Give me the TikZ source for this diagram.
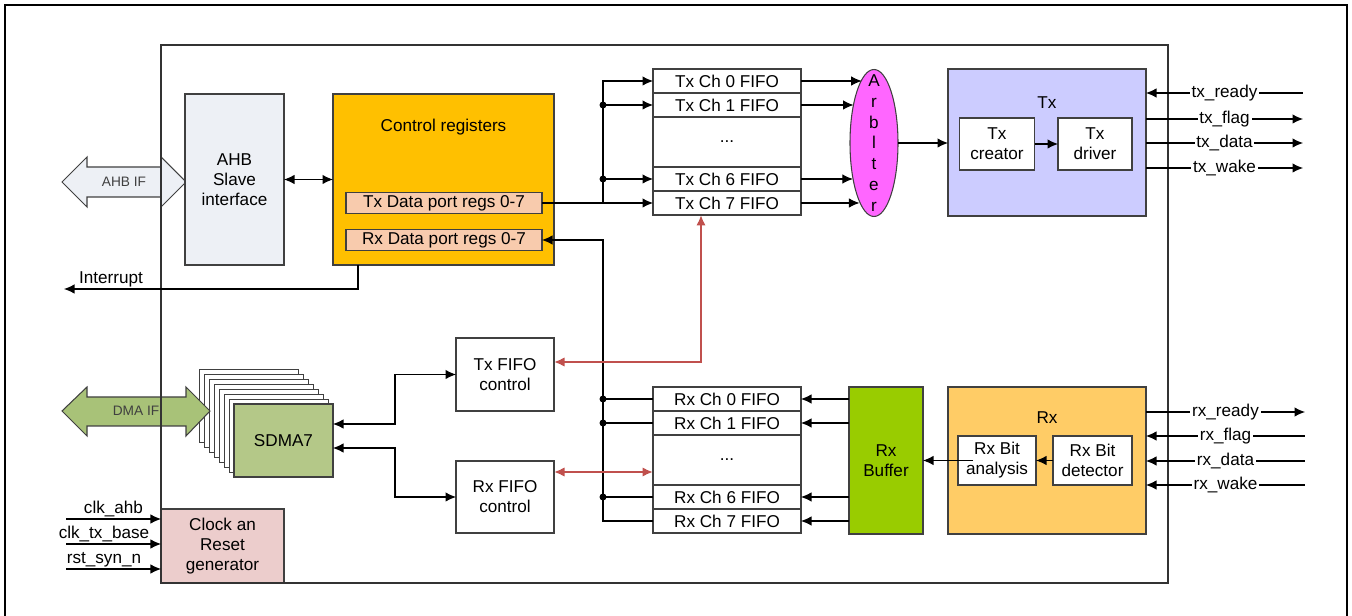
\documentclass[tikz,border=0pt]{standalone}
\usepackage{fontspec}
\setmainfont{Liberation Sans}
\usetikzlibrary{arrows.meta,shapes.geometric}

\definecolor{ahbgris}{RGB}{237,240,245}
\definecolor{ctrlnar}{RGB}{255,192,0}
\definecolor{puerto}{RGB}{248,203,173}
\definecolor{arbmag}{RGB}{255,102,255}
\definecolor{txlila}{RGB}{204,204,255}
\definecolor{rxnar}{RGB}{255,204,102}
\definecolor{bufverde}{RGB}{153,204,0}
\definecolor{dmaverde}{RGB}{180,200,136}
\definecolor{dmaflecha}{RGB}{168,194,120}
\definecolor{clkrosa}{RGB}{236,205,204}
\definecolor{rojo}{RGB}{192,80,77}
\definecolor{borde}{RGB}{64,64,64}

\begin{document}
\begin{tikzpicture}[x=0.2mm,y=-0.2mm,line width=0.6pt,>={Latex[length=2.1mm,width=1.9mm]},
  font=\fontsize{9.75}{11.4}\selectfont,
  caja/.style={draw=borde,line width=0.6pt,align=center,inner sep=1pt,outer sep=0pt},
  fifo/.style={caja,fill=white,minimum width=29.6mm,minimum height=4.8mm},
  chica/.style={font=\fontsize{7.8}{9}\selectfont,text=black!75},
  sig/.style={fill=white,inner sep=1pt},
  rojoflecha/.style={<->,draw=rojo,line width=1.3pt}]
  \useasboundingbox (0,0) rectangle (1352,616);
  % marco exterior (abierto abajo)
  \draw[line width=1.2pt] (5,616) -- (5,5) -- (1347,5) -- (1347,616);
  % AHB IF
  \fill[ahbgris,draw=borde] (62,182) -- (87,157) -- (87,167) -- (161,167) -- (161,157) -- (186,182)
    -- (161,207) -- (161,197) -- (87,197) -- (87,207) -- cycle;
  \node[chica] (ahbif) at (124,182) {AHB IF};
  % bloques de control
  \node[caja,fill=ahbgris,minimum width=19.8mm,minimum height=34.2mm] (ahb) at (234.5,179.5) {AHB\\Slave\\interface};
  \node[caja,fill=ctrlnar,minimum width=44.2mm,minimum height=34.2mm] (ctrl) at (443.5,179.5) {};
  \node (ctrltit) at (443.5,127) {Control registers};
  \node[caja,fill=puerto,minimum width=39.2mm,minimum height=4.3mm] (txport) at (444,203) {Tx Data port regs 0-7};
  \node[caja,fill=puerto,minimum width=39.2mm,minimum height=4.3mm] (rxport) at (444,240) {Rx Data port regs 0-7};
  % fifos de Tx
  \node[fifo] (tx0) at (727,81) {Tx Ch 0 FIFO};
  \node[fifo] (tx1) at (727,105) {Tx Ch 1 FIFO};
  \node[fifo,minimum height=10mm] (txd) at (727,142) {...};
  \node[fifo] (tx6) at (727,179) {Tx Ch 6 FIFO};
  \node[fifo] (tx7) at (727,203) {Tx Ch 7 FIFO};
  % arbitro
  \node[ellipse,draw=borde,fill=arbmag,minimum width=9.6mm,minimum height=29.4mm,inner sep=0pt,outer sep=0pt] (arb) at (874,143) {};
  \node[align=center,inner sep=0pt,font=\fontsize{9.75}{11.8}\selectfont] (arbtxt) at (arb) {A\\r\\b\\l\\t\\e\\r};
  % transmisor
  \node[caja,fill=txlila,minimum width=39.6mm,minimum height=29.4mm] (tx) at (1047,142.5) {};
  \node (txtit) at (1047,103) {Tx};
  \node[caja,fill=white,minimum width=15mm,minimum height=10.4mm] (txcr) at (997,144) {Tx\\creator};
  \node[caja,fill=white,minimum width=14.8mm,minimum height=10.4mm] (txdr) at (1095,144) {Tx\\driver};
  % control de fifos
  \node[caja,fill=white,minimum width=19.6mm,minimum height=14.6mm] (txfc) at (505,374.5) {Tx FIFO\\control};
  \node[caja,fill=white,minimum width=19.6mm,minimum height=14.4mm] (rxfc) at (505,497) {Rx FIFO\\control};
  % fifos de Rx
  \node[fifo] (rx0) at (727,399) {Rx Ch 0 FIFO};
  \node[fifo] (rx1) at (727,423) {Rx Ch 1 FIFO};
  \node[fifo,minimum height=10mm] (rxd) at (727,460) {...};
  \node[fifo] (rx6) at (727,497) {Rx Ch 6 FIFO};
  \node[fifo] (rx7) at (727,521) {Rx Ch 7 FIFO};
  % receptor
  \node[caja,fill=bufverde,minimum width=14.8mm,minimum height=29.4mm] (rxbuf) at (886,460.5) {Rx\\Buffer};
  \node[caja,fill=rxnar,minimum width=39.6mm,minimum height=29.4mm] (rx) at (1047,460.5) {};
  \node (rxtit) at (1047,418) {Rx};
  \node[caja,fill=white,minimum width=15.6mm,minimum height=9.8mm] (rxan) at (997,460.5) {Rx Bit\\analysis};
  \node[caja,fill=white,minimum width=15.8mm,minimum height=9.8mm] (rxdet) at (1092.5,460.5) {Rx Bit\\detector};
  % canales DMA
  \foreach \k in {7,...,1}
    \node[caja,fill=white,minimum width=19.8mm,minimum height=14.6mm] (sdmab\k) at ({283.5-4.9*\k},{440.5-4.9*\k}) {};
  \node[caja,fill=dmaverde,minimum width=19.8mm,minimum height=14.6mm] (sdma) at (283.5,440.5) {SDMA7};
  \fill[dmaflecha,draw=borde] (62,411) -- (87,387) -- (87,397) -- (186,397) -- (186,387) -- (210,411)
    -- (186,436) -- (186,426) -- (87,426) -- (87,436) -- cycle;
  \node[chica] (dmaif) at (136,411) {DMA IF};
  % reloj y reset
  \node[caja,fill=clkrosa,minimum width=24.6mm,minimum height=14.8mm] (clk) at (222.5,546) {Clock an\\Reset\\generator};
  % marco interior
  \draw[black!80] (161,45) rectangle (1168,583);

  % conexiones
  \draw[<->] (ahb.east) -- (ctrl.west);
  \coordinate (intr) at (64,289);
  \draw[->] ([xshift=5mm]ctrl.south west) |- (intr) node[pos=0.92,above,inner sep=1pt] {Interrupt};
  \coordinate (txbus) at (603,203);
  \coordinate (rxbus) at (603,240);
  \draw[->] (txport.east) -- (tx7.west);
  \draw[->] (txbus) |- (tx0.west);
  \foreach \n in {tx1,tx6} {
    \fill (txbus |- \n.west) circle[radius=0.7mm];
    \draw[->] (txbus |- \n.west) -- (\n.west);
  }
  \draw[->] (rx7.west) -| (rxbus) -- (rxport.east);
  \foreach \n in {rx0,rx1,rx6} {
    \fill (rxbus |- \n.west) circle[radius=0.7mm];
    \draw (rxbus |- \n.west) -- (\n.west);
  }
  \foreach \n/\a in {tx0/101.75,tx1/118.3,tx6/239.9,tx7/256.96}
    \draw[->] (\n.east) -- (\n.east -| arb.\a);
  \draw[->] (arb.east) -- (arb.east -| tx.west);
  \draw[->] (txcr.east) -- (txdr.west);
  \foreach \n in {rx0,rx1,rx6,rx7}
    \draw[->] (rxbuf.west |- \n.east) -- (\n.east);
  \draw[->] (rxdet.west) -- (rxan.east);
  \draw[->] ([xshift=3mm]rxan.west) -- (rxan.west -| rxbuf.east);
  \draw[<->] ([yshift=3.3mm]sdma.east) -- ++(62,0) |- (txfc.west);
  \draw[<->] ([yshift=-1.5mm]sdma.east) -- ++(62,0) |- (rxfc.west);
  \draw[rojoflecha] ([yshift=2.5mm]txfc.east) -| ([xshift=-5.2mm]tx7.south);
  \draw[rojoflecha] ([yshift=5mm]rxfc.east) -- ([yshift=5mm]rxfc.east -| rxd.west);
  % senales Tx
  \coordinate (txs1) at (1303,93);
  \coordinate (txs2) at (1303,119);
  \coordinate (txs3) at (1303,143);
  \coordinate (txs4) at (1303,168);
  \draw[<-] (txs1 -| tx.east) -- (txs1) node[midway,sig] {tx\_ready};
  \draw[->] (txs2 -| tx.east) -- (txs2) node[midway,sig] {tx\_flag};
  \draw[->] (txs3 -| tx.east) -- (txs3) node[midway,sig] {tx\_data};
  \draw[->] (txs4 -| tx.east) -- (txs4) node[midway,sig] {tx\_wake};
  % senales Rx
  \coordinate (rxs1) at (1305,412);
  \coordinate (rxs2) at (1305,436);
  \coordinate (rxs3) at (1305,461);
  \coordinate (rxs4) at (1305,485);
  \draw[->] (rxs1 -| rx.east) -- (rxs1) node[midway,sig] {rx\_ready};
  \draw[<-] (rxs2 -| rx.east) -- (rxs2) node[midway,sig] {rx\_flag};
  \draw[<-] (rxs3 -| rx.east) -- (rxs3) node[midway,sig] {rx\_data};
  \draw[<-] (rxs4 -| rx.east) -- (rxs4) node[midway,sig] {rx\_wake};
  % entradas de reloj
  \coordinate (ck1) at (66,519);
  \coordinate (ck2) at (66,544);
  \coordinate (ck3) at (66,569);
  \draw[->] (ck1) -- (ck1 -| clk.west) node[midway,above,inner sep=1pt] {clk\_ahb};
  \draw[->] (ck2) -- (ck2 -| clk.west) node[pos=0.4,above,inner sep=1pt] {clk\_tx\_base};
  \draw[->] (ck3) -- (ck3 -| clk.west) node[pos=0.4,above,inner sep=1pt] {rst\_syn\_n};
\end{tikzpicture}
\end{document}
